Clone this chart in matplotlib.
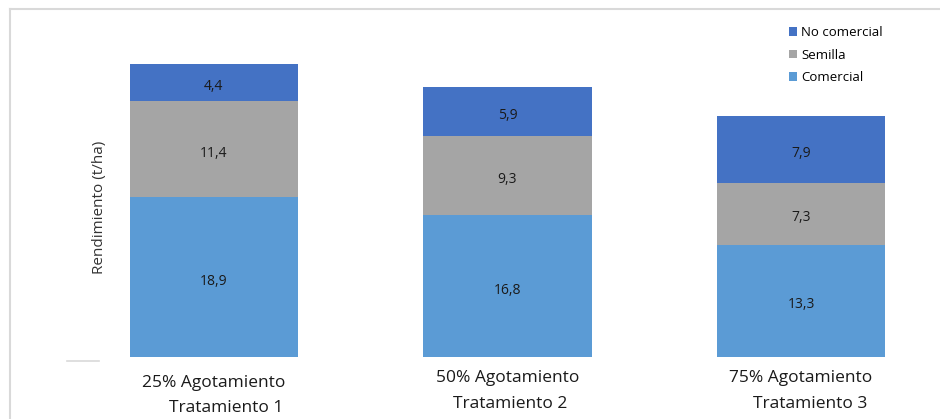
import matplotlib.pyplot as plt
from matplotlib.lines import Line2D

plt.rcParams["font.family"] = ["Open Sans", "DejaVu Sans"]

tratamientos = ["25% Agotamiento", "50% Agotamiento", "75% Agotamiento"]
subtitulos = ["Tratamiento 1", "Tratamiento 2", "Tratamiento 3"]
comercial = [18.9, 16.8, 13.3]
semilla = [11.4, 9.3, 7.3]
no_comercial = [4.4, 5.9, 7.9]

c_com = "#5B9BD5"
c_sem = "#A5A5A5"
c_nocom = "#4472C4"

W, H = 940, 419
fig = plt.figure(figsize=(W / 100, H / 100), dpi=100)

# ejes en pixeles: base de barras en y=357, centros en x=214/508/801
x0, x1 = 67, 935
y_base, y_top = 357, 19
ax = fig.add_axes([x0 / W, (H - y_base) / H, (x1 - x0) / W, (y_base - y_top) / H])

pos = range(len(tratamientos))
ancho = 0.573
b1 = ax.bar(pos, comercial, ancho, color=c_com, label="Comercial")
b2 = ax.bar(pos, semilla, ancho, bottom=comercial, color=c_sem, label="Semilla")
base3 = [a + b for a, b in zip(comercial, semilla)]
b3 = ax.bar(pos, no_comercial, ancho, bottom=base3, color=c_nocom, label="No comercial")

for barras, valores in [(b1, comercial), (b2, semilla), (b3, no_comercial)]:
    for bar, v in zip(barras, valores):
        ax.annotate(f"{v:.1f}".replace(".", ","),
                    (bar.get_x() + bar.get_width() / 2, bar.get_y() + bar.get_height() / 2),
                    xytext=(0, -3), textcoords="offset points",
                    ha="center", va="center", fontsize=10, color="#1a1a1a")

ax.set_xlim(-0.5, 2.456)
ax.set_ylim(0, 40)
ax.set_xticks([])
ax.set_yticks([])
for s in ax.spines.values():
    s.set_visible(False)

# etiquetas de categoria en dos lineas
off_y1 = [383, 378, 378]
off_y2 = [408, 404, 404]
off_x2 = [0.04, 0.01, 0.03]
for i in pos:
    fig.text((214 + 293.5 * i) / W, 1 - off_y1[i] / H, tratamientos[i],
             ha="center", va="center", fontsize=12.5, color="#1a1a1a")
    fig.text((214 + 293.5 * (i + off_x2[i])) / W, 1 - off_y2[i] / H, subtitulos[i],
             ha="center", va="center", fontsize=12.5, color="#1a1a1a")

fig.text(100 / W, 1 - 207 / H, "Rendimiento (t/ha)", rotation=90,
         ha="center", va="center", fontsize=11, color="#333333")

handles = [b3, b2, b1]
ax.legend(handles, [h.get_label() for h in handles], loc="upper left",
          bbox_to_anchor=((784 - x0) / (x1 - x0), (y_base - 21) / (y_base - y_top)),
          frameon=False, fontsize=9.5, handlelength=0.6, handleheight=0.6,
          handletextpad=0.3, labelspacing=0.72, borderaxespad=0)

# marco del grafico y pequeña marca a la izquierda
fig.add_artist(Line2D([10 / W, 1], [1 - 9 / H, 1 - 9 / H], color="#d9d9d9", lw=1.5))
fig.add_artist(Line2D([10 / W, 10 / W], [0, 1 - 9 / H], color="#d9d9d9", lw=1.5))
fig.add_artist(Line2D([67 / W, 99 / W], [1 - 361 / H, 1 - 361 / H], color="#d9d9d9", lw=1.2))

fig.savefig("out.png", dpi=100)
